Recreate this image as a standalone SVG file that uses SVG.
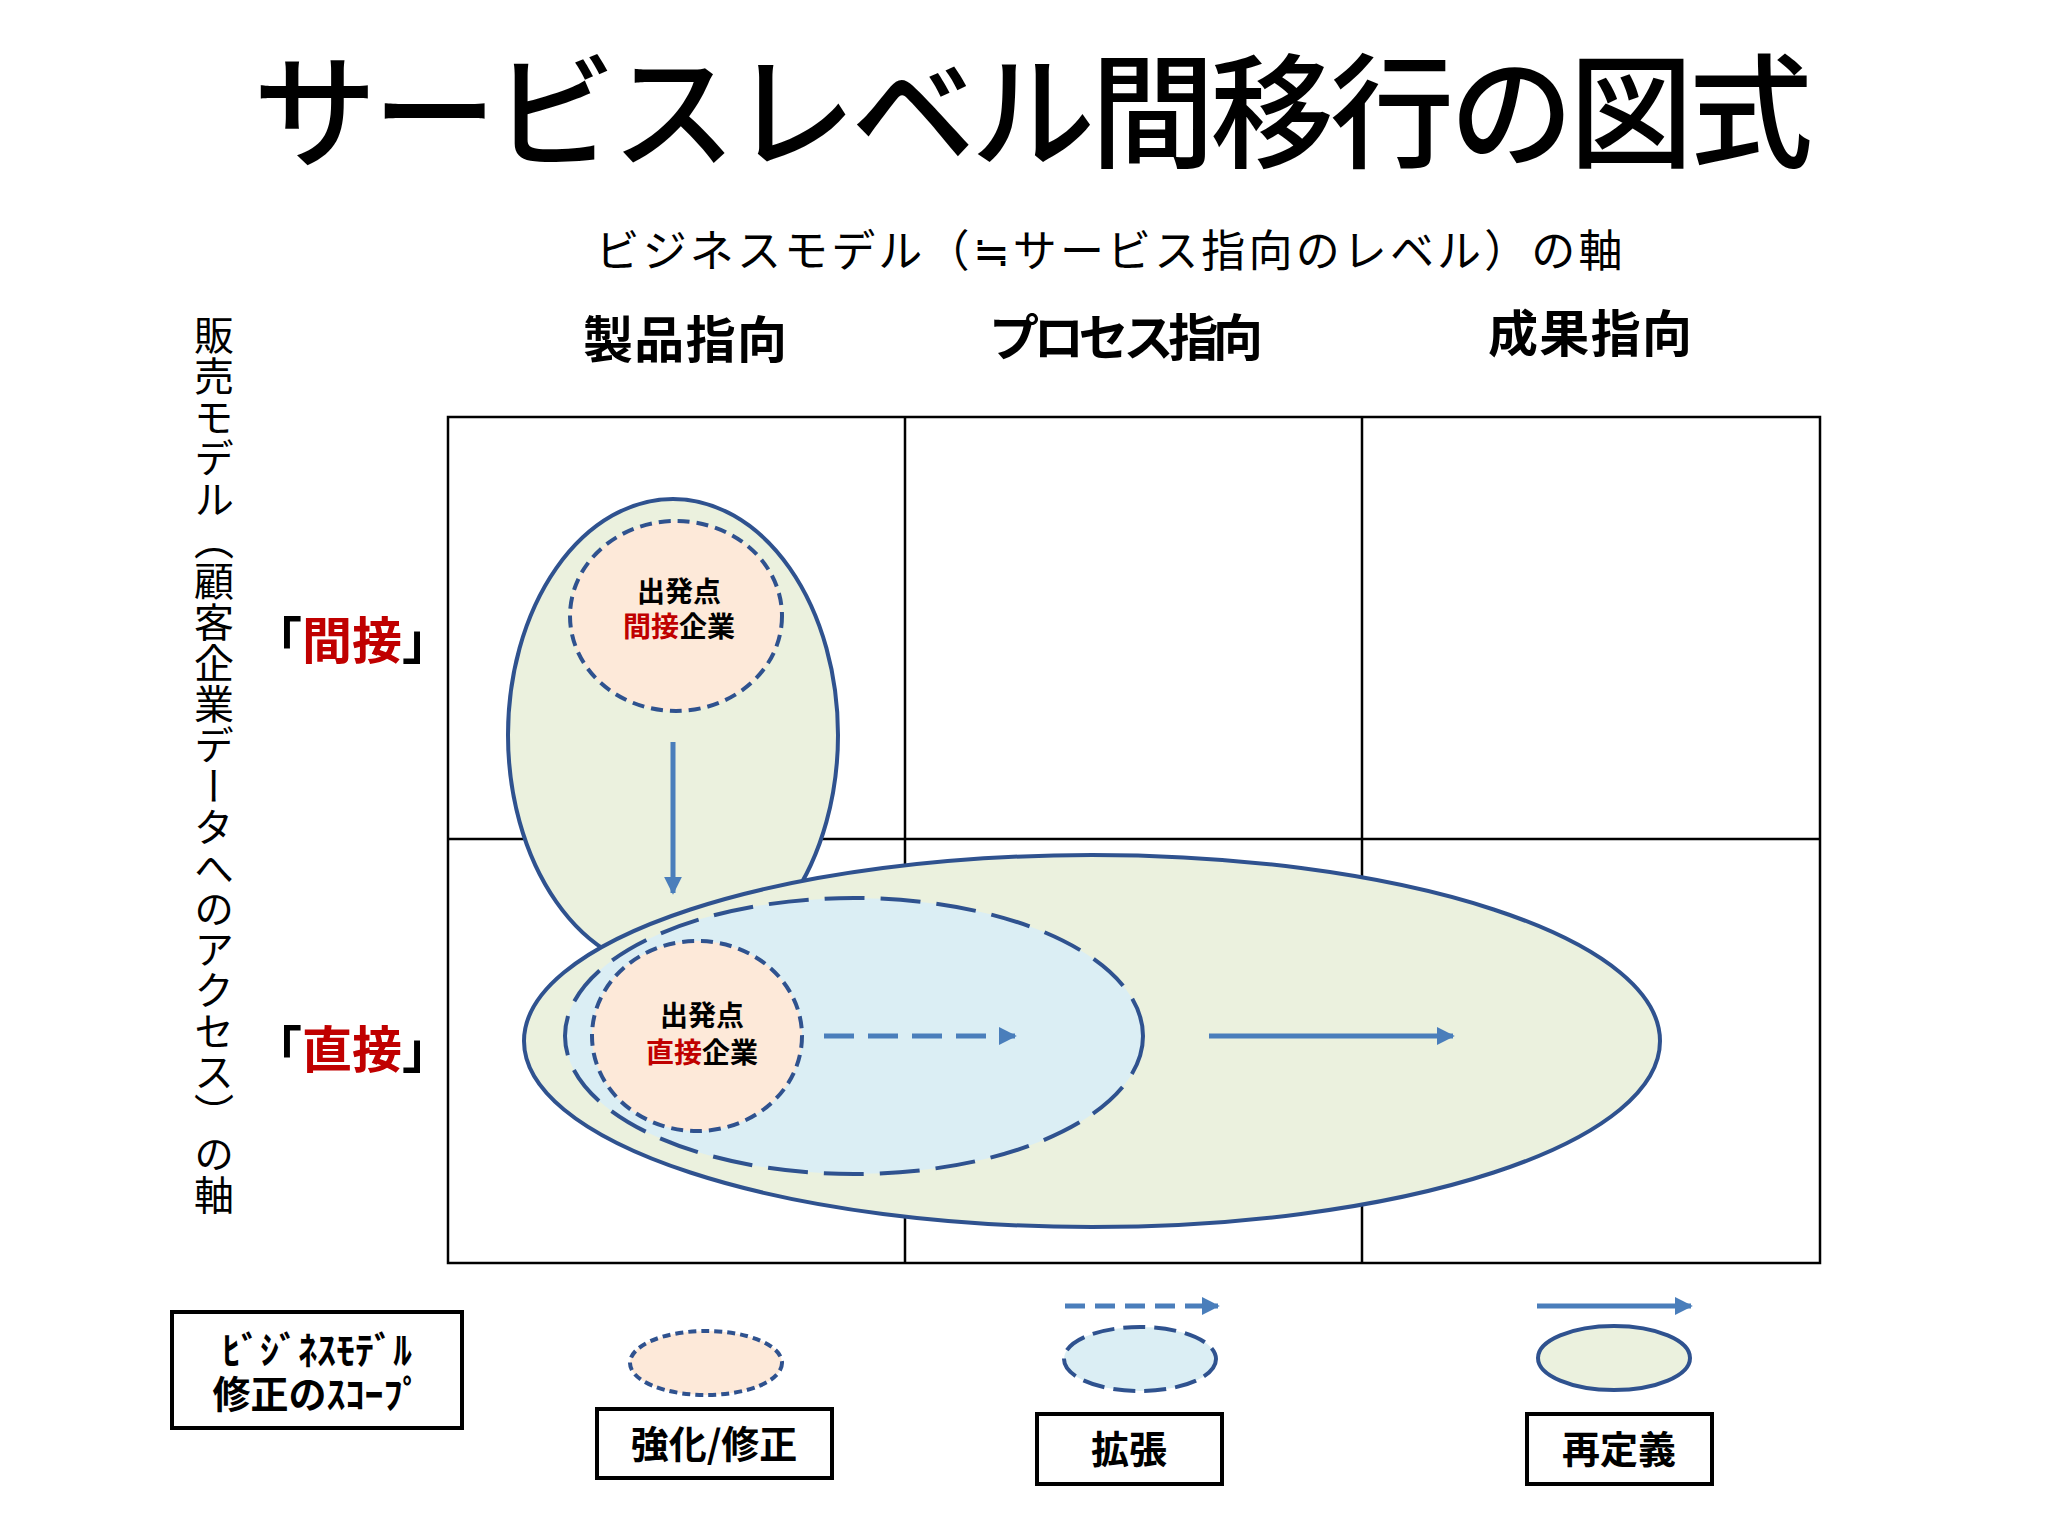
<svg xmlns="http://www.w3.org/2000/svg" width="2048" height="1536" viewBox="0 0 2048 1536">
<style>
text{font-family:"Noto Sans CJK JP","Noto Sans",sans-serif;fill:#000}
.b{font-weight:bold}
.r{fill:#c00000}
.grid{fill:none;stroke:#000;stroke-width:2.5}
.ol{stroke:#2f528f;stroke-width:4}
.g{fill:#ebf1de}
.bl{fill:#dbeef4}
.o{fill:#fde9d9}
.ar{stroke:#4a7ebb;stroke-width:5;fill:none}
.box{fill:#fff;stroke:#000;stroke-width:4}
</style>
<defs>
<marker id="ah" viewBox="0 0 10 10" refX="9" refY="5" markerWidth="3.6" markerHeight="3.6" orient="auto"><path d="M0,0L10,5L0,10z" fill="#4a7ebb"/></marker>
</defs>
<rect width="2048" height="1536" fill="#fff"/>
<text x="1033" y="158" font-size="124" font-weight="500" text-anchor="middle" textLength="1560">サービスレベル間移行の図式</text>
<text x="1109" y="267" font-size="44" text-anchor="middle" textLength="1027">ビジネスモデル（≒サービス指向のレベル）の軸</text>
<g id="headers" class="b" font-size="50">
<text x="685" y="358" text-anchor="middle" class="b" textLength="204">製品指向</text>
<text x="1126" y="356" text-anchor="middle" class="b" textLength="274">プロセス指向</text>
<text x="1590" y="352" text-anchor="middle" class="b" textLength="204">成果指向</text>
</g>
<text x="214" y="315" font-size="40" style="writing-mode:vertical-rl" textLength="900">販売モデル（顧客企業データへのアクセス）の軸</text>
<text x="352" y="659" font-size="50" class="b" text-anchor="middle">「<tspan class="r">間接</tspan>」</text>
<text x="352" y="1068" font-size="50" class="b" text-anchor="middle">「<tspan class="r">直接</tspan>」</text>
<g id="grid">
<rect class="grid" x="448" y="417" width="1372" height="846"/>
<line class="grid" x1="905" y1="417" x2="905" y2="1263"/>
<line class="grid" x1="1362" y1="417" x2="1362" y2="1263"/>
<line class="grid" x1="448" y1="839" x2="1820" y2="839"/>
</g>
<g id="scope-indirect"><ellipse class="g ol" cx="673" cy="735" rx="165" ry="236"/></g>
<g id="scope-redefine"><ellipse class="g ol" cx="1092" cy="1041" rx="568" ry="186"/></g>
<g id="scope-expand"><ellipse class="bl ol" cx="854" cy="1036" rx="289" ry="138" stroke-dasharray="40 16"/></g>
<g id="start-indirect">
<ellipse class="o ol" cx="676" cy="616" rx="106" ry="95" stroke-dasharray="12 7"/>
<text x="679" y="602" font-size="28" class="b" text-anchor="middle">出発点</text>
<text x="679" y="637" font-size="28" class="b" text-anchor="middle"><tspan class="r">間接</tspan>企業</text>
</g>
<g id="start-direct">
<ellipse class="o ol" cx="697" cy="1036" rx="105" ry="95" stroke-dasharray="12 7"/>
<text x="702" y="1026" font-size="28" class="b" text-anchor="middle">出発点</text>
<text x="702" y="1063" font-size="28" class="b" text-anchor="middle"><tspan class="r">直接</tspan>企業</text>
</g>
<g id="connectors">
<line class="ar" x1="673" y1="742" x2="673" y2="893" marker-end="url(#ah)"/>
<line class="ar" x1="824" y1="1036" x2="1015" y2="1036" stroke-dasharray="30 14" marker-end="url(#ah)"/>
<line class="ar" x1="1209" y1="1036" x2="1453" y2="1036" marker-end="url(#ah)"/>
<line class="ar" x1="1065" y1="1306" x2="1218" y2="1306" stroke-dasharray="20 10" marker-end="url(#ah)"/>
<line class="ar" x1="1537" y1="1306" x2="1691" y2="1306" marker-end="url(#ah)"/>
</g>
<g id="legend">
<rect class="box" x="172" y="1312" width="290" height="116"/>
<text x="317" y="1364" font-size="38" class="b" text-anchor="middle">ﾋﾞｼﾞﾈｽﾓﾃﾞﾙ</text>
<text x="317" y="1408" font-size="38" class="b" text-anchor="middle">修正のｽｺｰﾌﾟ</text>
<ellipse class="o ol" cx="706" cy="1363" rx="76" ry="32" stroke-dasharray="8 5"/>
<rect class="box" x="597" y="1409" width="235" height="69"/>
<text x="714" y="1458" font-size="38" class="b" text-anchor="middle">強化/修正</text>
<ellipse class="bl ol" cx="1140" cy="1359" rx="76" ry="32" stroke-dasharray="22 9"/>
<rect class="box" x="1037" y="1414" width="185" height="70"/>
<text x="1129" y="1463" font-size="38" class="b" text-anchor="middle">拡張</text>
<ellipse class="g ol" cx="1614" cy="1358" rx="76" ry="32"/>
<rect class="box" x="1527" y="1414" width="185" height="70"/>
<text x="1619" y="1463" font-size="38" class="b" text-anchor="middle">再定義</text>
</g>
</svg>
